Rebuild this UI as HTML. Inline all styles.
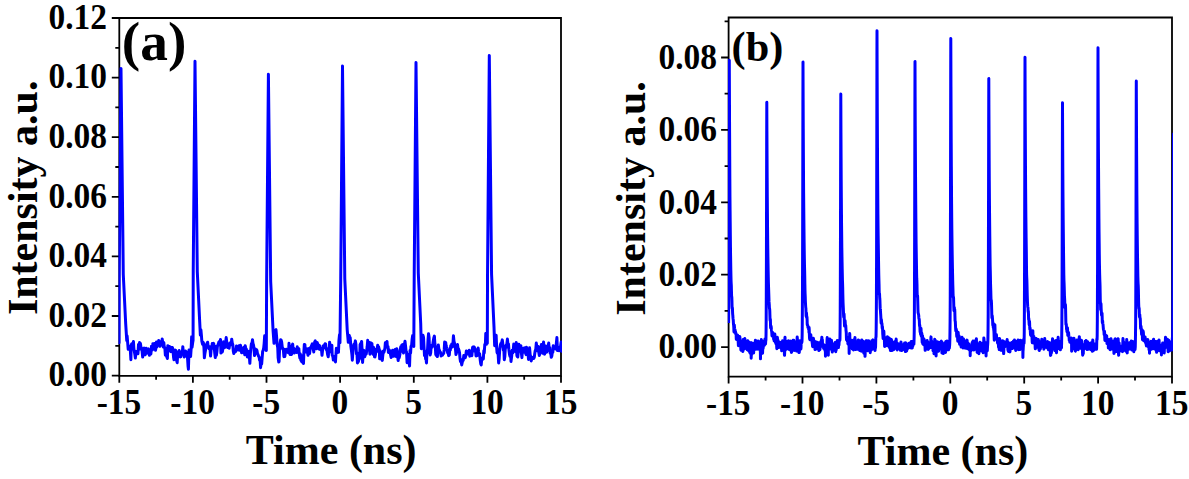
<!DOCTYPE html>
<html><head><meta charset="utf-8"><style>
html,body{margin:0;padding:0;background:#fff;width:1189px;height:479px;overflow:hidden}
svg{display:block}
text{font-family:"Liberation Serif",serif;font-weight:bold}
</style></head><body>
<svg width="1189" height="479" viewBox="0 0 1189 479">
<defs><clipPath id="ca"><rect x="118.5" y="18" width="443.5" height="357.8"/></clipPath><clipPath id="cb"><rect x="727.8" y="17.5" width="445.2" height="359"/></clipPath></defs>
<path d="M119.3,18.0 H561.0 V375.8 H119.3 Z" fill="none" stroke="#000" stroke-width="1.8"/>
<path d="M111.8,375.6 H119.3 M111.8,316.0 H119.3 M111.8,256.4 H119.3 M111.8,196.8 H119.3 M111.8,137.2 H119.3 M111.8,77.6 H119.3 M111.8,18.0 H119.3 M115.3,345.8 H119.3 M115.3,286.2 H119.3 M115.3,226.6 H119.3 M115.3,167.0 H119.3 M115.3,107.4 H119.3 M115.3,47.8 H119.3 M119.3,375.8 V382.8 M192.9,375.8 V382.8 M266.5,375.8 V382.8 M340.1,375.8 V382.8 M413.8,375.8 V382.8 M487.4,375.8 V382.8 M561.0,375.8 V382.8 M156.1,375.8 V379.8 M229.7,375.8 V379.8 M303.3,375.8 V379.8 M377.0,375.8 V379.8 M450.6,375.8 V379.8 M524.2,375.8 V379.8" stroke="#000" stroke-width="1.8" fill="none"/>
<path d="M728.6,17.5 H1172.0 V376.6 H728.6 Z" fill="none" stroke="#000" stroke-width="1.8"/>
<path d="M721.1,347.1 H728.6 M721.1,274.7 H728.6 M721.1,202.3 H728.6 M721.1,129.9 H728.6 M721.1,57.5 H728.6 M724.6,310.9 H728.6 M724.6,238.5 H728.6 M724.6,166.1 H728.6 M724.6,93.7 H728.6 M724.6,21.3 H728.6 M728.6,376.6 V383.6 M802.5,376.6 V383.6 M876.4,376.6 V383.6 M950.3,376.6 V383.6 M1024.2,376.6 V383.6 M1098.1,376.6 V383.6 M1172.0,376.6 V383.6 M765.6,376.6 V380.6 M839.5,376.6 V380.6 M913.4,376.6 V380.6 M987.2,376.6 V380.6 M1061.2,376.6 V380.6 M1135.0,376.6 V380.6" stroke="#000" stroke-width="1.8" fill="none"/>
<path clip-path="url(#ca)" d="M116.27,345.46 116.87,341.05 117.41,338.04 117.79,330.44 118.33,340.47 119.03,342.74 119.23,274.49 121.00,68.40 123.28,274.49 125.71,323.95 126.77,340.57 127.11,335.86 127.70,342.81 128.20,349.27 128.69,346.55 129.26,347.25 129.69,346.68 130.34,350.49 130.87,359.68 131.21,344.93 131.81,343.70 132.28,346.06 132.75,346.06 133.45,341.56 133.86,348.57 134.31,351.19 134.95,355.03 135.35,358.06 136.03,351.43 136.39,352.78 136.86,351.96 137.41,351.35 137.96,353.78 138.51,344.42 139.12,347.57 139.59,342.48 140.02,349.04 140.46,343.57 141.01,347.79 141.72,348.16 142.11,351.32 142.68,357.03 143.05,354.60 143.56,350.56 144.26,348.12 144.72,353.60 145.17,354.75 145.69,349.77 146.15,348.29 146.68,351.09 147.16,353.11 147.87,349.25 148.30,348.79 148.73,350.80 149.39,355.22 149.78,352.17 150.26,352.14 150.90,354.00 151.49,346.21 151.80,348.12 152.50,349.84 152.87,343.71 153.36,345.54 153.86,345.52 154.44,343.52 155.06,344.37 155.52,350.31 156.12,346.91 156.48,341.94 157.02,346.89 157.52,345.05 158.21,343.71 158.72,340.59 159.09,341.17 159.63,343.17 160.11,346.39 160.73,342.27 161.08,342.60 161.60,343.75 162.20,339.01 162.67,342.26 163.33,347.10 163.82,342.52 164.29,347.70 164.83,347.71 165.36,355.13 165.89,352.36 166.44,355.46 166.77,356.79 167.40,358.48 167.80,345.75 168.39,351.30 168.99,350.16 169.53,346.47 170.01,349.08 170.35,347.09 170.95,351.66 171.41,347.46 172.13,349.14 172.44,347.48 172.98,350.04 173.52,356.97 173.97,359.74 174.67,356.57 175.13,350.12 175.54,350.15 176.13,351.41 176.55,360.21 177.19,362.69 177.61,355.49 178.08,353.41 178.62,353.66 179.24,350.58 179.77,352.84 180.21,356.96 180.80,356.66 181.25,353.56 181.71,353.88 182.27,353.67 182.81,346.68 183.44,354.15 183.77,354.08 184.28,356.94 184.91,354.15 185.52,350.99 186.02,351.72 186.49,355.33 186.85,355.35 187.54,358.03 188.03,366.03 188.42,369.20 189.01,350.02 189.42,352.25 190.12,354.29 190.61,356.52 191.15,348.74 191.65,336.69 192.05,347.26 192.69,342.63 193.08,340.22 193.23,271.60 195.00,61.30 197.28,271.60 199.71,322.08 200.36,335.11 200.91,329.82 201.39,335.16 201.84,341.17 202.53,344.19 202.83,342.08 203.40,342.73 203.97,347.82 204.36,357.84 204.91,353.61 205.58,349.66 206.09,347.44 206.57,344.30 207.15,343.29 207.63,342.19 208.03,345.53 208.63,347.37 209.07,348.67 209.69,346.75 210.12,350.16 210.58,356.11 211.26,347.72 211.73,348.60 212.26,343.49 212.73,343.98 213.30,343.27 213.74,343.60 214.28,347.92 214.68,352.46 215.31,357.59 215.89,346.47 216.38,355.40 216.91,351.55 217.36,346.53 217.96,345.10 218.30,343.88 218.99,341.83 219.39,341.53 219.84,344.31 220.48,339.39 220.95,353.09 221.46,351.30 222.08,352.01 222.43,351.57 223.05,347.11 223.52,341.76 224.06,347.33 224.57,347.67 225.00,343.28 225.61,342.68 226.20,337.60 226.56,340.62 227.03,345.22 227.56,347.44 228.17,345.41 228.81,345.73 229.10,348.17 229.84,343.05 230.25,343.02 230.67,343.87 231.25,344.78 231.72,339.18 232.35,343.35 232.83,344.62 233.28,350.87 233.79,353.43 234.45,351.66 234.94,350.09 235.38,351.74 235.89,350.68 236.48,345.95 237.05,346.99 237.36,349.98 237.89,347.76 238.45,347.58 239.00,345.73 239.42,350.31 239.93,347.94 240.48,345.31 241.04,348.57 241.63,352.82 242.12,352.44 242.50,349.89 243.02,348.45 243.63,347.53 244.24,351.54 244.77,354.69 245.15,345.63 245.79,348.19 246.32,349.05 246.71,351.06 247.30,356.96 247.73,356.24 248.19,354.33 248.81,351.39 249.21,354.68 249.86,363.36 250.41,352.99 250.95,347.75 251.36,343.88 251.79,344.81 252.49,339.66 253.00,343.38 253.54,345.09 253.97,348.14 254.50,355.54 254.95,348.90 255.42,349.02 255.96,352.72 256.57,349.70 257.00,350.67 257.60,354.35 258.07,354.58 258.57,356.18 259.21,357.34 259.53,360.18 260.13,359.97 260.56,367.65 261.26,362.24 261.67,364.00 262.15,357.72 262.63,351.57 263.24,350.07 263.71,347.92 264.16,343.33 264.66,335.81 265.26,342.20 265.82,340.21 266.32,350.59 266.63,281.49 268.40,74.30 270.68,281.49 273.11,331.22 274.03,343.37 274.53,332.87 275.11,331.46 275.51,330.09 275.99,329.71 276.64,337.46 277.14,344.39 277.74,347.67 278.14,357.87 278.75,362.08 279.08,361.48 279.60,349.30 280.25,342.73 280.68,339.74 281.15,340.03 281.68,342.16 282.26,347.19 282.76,349.21 283.33,349.52 283.92,356.70 284.32,349.37 284.79,356.55 285.40,352.42 285.78,352.06 286.38,349.24 286.88,351.43 287.41,352.07 287.85,349.92 288.48,352.79 289.02,343.28 289.56,352.30 290.12,354.52 290.50,353.61 291.08,353.32 291.55,354.39 292.01,346.03 292.69,344.08 293.17,350.42 293.73,348.11 294.22,353.01 294.75,351.23 295.08,349.85 295.57,349.42 296.13,350.38 296.70,352.51 297.28,346.86 297.73,350.44 298.27,348.73 298.84,348.66 299.19,353.42 299.85,357.94 300.22,353.70 300.78,359.93 301.41,361.06 301.91,361.86 302.36,355.68 302.85,358.70 303.49,363.47 303.88,351.90 304.34,344.38 304.90,344.58 305.36,351.90 306.07,350.71 306.42,349.33 307.13,348.73 307.47,352.14 308.01,355.28 308.59,348.71 309.04,348.38 309.57,353.55 310.02,350.09 310.60,347.47 311.03,347.68 311.60,345.49 312.27,343.90 312.64,344.82 313.15,347.99 313.76,351.95 314.33,345.46 314.70,341.86 315.24,340.85 315.83,348.11 316.37,348.62 316.84,343.22 317.25,342.48 317.77,345.45 318.42,345.01 318.92,349.01 319.48,345.37 319.97,349.39 320.40,348.10 320.85,348.30 321.54,350.15 322.01,355.35 322.50,350.80 323.04,345.98 323.49,346.66 323.99,347.53 324.56,344.91 325.05,343.71 325.62,343.88 326.19,349.54 326.69,348.47 327.09,350.94 327.61,354.49 328.25,356.83 328.64,352.20 329.25,352.29 329.60,342.24 330.20,348.45 330.73,350.27 331.32,350.50 331.85,345.15 332.19,354.99 332.82,356.27 333.33,360.07 333.74,359.54 334.41,359.55 334.86,356.18 335.47,361.89 335.81,356.01 336.40,348.13 336.87,352.87 337.46,350.76 337.97,350.91 338.46,352.32 338.93,340.56 339.49,334.86 339.97,342.85 340.73,278.78 342.50,66.10 344.78,278.78 347.21,329.83 348.30,342.35 348.75,335.24 349.31,335.39 349.73,340.66 350.20,337.59 350.87,346.63 351.33,349.69 351.95,354.85 352.31,360.13 352.96,351.10 353.52,346.14 354.01,344.22 354.54,344.58 354.87,343.35 355.38,340.87 355.91,344.32 356.46,353.91 356.92,352.63 357.44,363.01 357.93,362.28 358.66,360.83 359.04,358.89 359.61,358.61 360.09,344.62 360.67,343.55 361.20,343.52 361.62,341.41 362.17,351.49 362.58,362.45 363.14,354.08 363.64,350.35 364.18,350.98 364.70,356.84 365.27,355.08 365.73,351.58 366.24,354.00 366.88,348.82 367.20,346.53 367.71,340.30 368.24,346.59 368.95,342.14 369.41,348.82 369.94,354.20 370.51,342.73 370.86,351.40 371.54,346.54 371.89,343.38 372.47,351.54 373.03,354.27 373.57,347.33 373.95,350.67 374.52,356.87 374.94,356.91 375.51,354.11 376.19,349.25 376.69,351.67 377.12,348.47 377.69,345.30 378.23,346.69 378.61,346.98 379.28,349.64 379.67,358.82 380.12,350.84 380.72,352.88 381.25,355.65 381.79,359.12 382.30,360.41 382.67,356.66 383.32,350.95 383.90,352.42 384.36,350.68 384.95,348.05 385.35,342.82 385.94,345.32 386.30,345.06 386.99,341.43 387.40,347.15 388.02,346.57 388.40,352.50 388.99,349.69 389.55,350.44 390.04,351.28 390.53,354.56 391.13,357.55 391.44,355.72 391.96,355.45 392.58,350.19 393.19,350.51 393.64,356.29 394.07,350.48 394.53,352.13 395.13,349.49 395.65,353.09 396.16,356.40 396.72,348.87 397.15,350.95 397.81,357.91 398.18,360.52 398.66,356.31 399.23,357.64 399.88,354.52 400.21,349.99 400.76,346.83 401.43,351.35 401.80,345.12 402.44,344.60 402.76,349.75 403.48,352.97 403.84,344.90 404.34,344.89 404.99,341.18 405.56,346.24 406.07,351.22 406.54,351.84 407.09,362.68 407.62,361.11 408.04,361.37 408.46,354.53 409.14,356.96 409.55,366.06 410.04,350.61 410.60,352.96 411.01,346.12 411.52,346.06 412.09,339.55 412.69,335.45 413.24,339.00 413.80,346.50 414.23,272.98 416.00,62.50 418.28,272.98 420.71,323.49 421.32,348.72 421.88,348.35 422.41,340.45 422.93,335.19 423.53,337.29 423.92,344.96 424.50,355.57 425.06,353.40 425.65,359.02 425.97,358.26 426.48,362.91 427.02,351.25 427.54,349.64 428.04,339.42 428.54,333.74 429.08,337.57 429.60,351.45 430.18,354.97 430.73,352.68 431.18,345.61 431.65,346.00 432.15,347.07 432.70,345.06 433.20,341.44 433.79,337.91 434.39,336.09 434.87,343.75 435.27,346.34 435.74,354.28 436.27,355.46 436.87,355.42 437.37,356.54 437.96,350.00 438.33,345.00 438.89,349.24 439.50,350.52 439.99,352.03 440.49,352.21 441.10,356.07 441.43,353.66 441.96,354.44 442.57,355.10 443.08,353.70 443.69,353.56 444.21,349.64 444.63,341.97 445.19,345.20 445.69,342.57 446.07,345.34 446.70,348.54 447.14,350.36 447.67,353.00 448.14,352.32 448.62,355.62 449.33,354.88 449.82,348.50 450.34,350.19 450.75,345.73 451.29,346.56 451.75,343.99 452.37,347.04 452.94,343.59 453.44,335.76 453.99,341.38 454.35,342.53 454.97,346.58 455.35,347.32 455.96,354.53 456.37,353.21 456.99,346.91 457.50,344.44 457.97,348.08 458.49,348.80 459.09,350.77 459.55,352.89 460.05,358.76 460.50,361.58 461.05,359.39 461.70,364.93 462.24,362.53 462.62,360.68 463.25,360.40 463.77,355.55 464.13,356.50 464.66,355.60 465.27,357.70 465.69,355.93 466.36,350.98 466.74,351.13 467.34,354.02 467.85,352.37 468.25,353.34 468.92,353.66 469.31,350.21 469.77,356.26 470.27,354.03 470.88,353.33 471.44,354.82 471.87,355.69 472.52,347.84 472.90,346.91 473.55,346.92 473.88,346.80 474.44,347.53 474.94,351.20 475.52,349.48 476.01,355.95 476.54,351.76 477.16,355.52 477.61,351.64 478.13,347.97 478.60,351.76 479.21,354.37 479.65,353.89 480.23,359.99 480.78,363.99 481.23,365.00 481.70,359.06 482.17,359.59 482.84,357.61 483.32,358.98 483.85,350.68 484.23,352.83 484.79,344.54 485.41,343.52 485.78,333.38 486.43,344.27 486.88,338.96 487.32,343.26 487.53,274.50 489.30,55.50 491.58,274.50 494.01,327.06 494.66,345.81 495.13,340.19 495.59,342.18 496.16,335.22 496.63,347.34 497.08,352.51 497.60,353.47 498.10,353.72 498.64,362.97 499.18,358.72 499.78,348.41 500.29,345.51 500.80,343.63 501.37,343.90 501.72,342.25 502.30,339.88 502.74,343.35 503.34,350.24 503.77,347.46 504.29,359.76 504.81,356.71 505.39,346.96 506.00,345.28 506.40,347.28 507.02,342.51 507.42,339.09 507.95,344.95 508.50,344.09 508.93,349.94 509.53,354.53 510.08,356.54 510.65,354.96 510.98,361.54 511.67,356.42 512.13,350.17 512.65,353.02 513.04,352.24 513.75,344.12 514.13,344.21 514.71,345.89 515.22,347.44 515.82,351.83 516.26,342.47 516.87,355.49 517.21,356.38 517.83,356.99 518.32,351.25 518.82,344.18 519.36,348.32 519.86,347.90 520.33,351.30 520.91,345.80 521.30,352.21 521.90,357.62 522.41,351.06 522.87,352.47 523.47,348.25 524.01,348.30 524.40,347.84 524.95,348.51 525.41,352.50 526.05,354.63 526.45,347.19 527.00,350.23 527.57,350.42 528.08,354.22 528.50,359.47 529.23,356.02 529.58,347.84 530.18,354.85 530.60,356.16 531.21,360.93 531.67,359.04 532.17,358.40 532.73,357.85 533.27,357.12 533.78,358.33 534.32,357.11 534.74,353.53 535.21,350.64 535.76,349.55 536.30,343.10 536.88,347.19 537.35,348.60 537.84,350.90 538.31,346.50 538.94,353.18 539.34,355.46 539.95,352.33 540.51,347.10 541.01,351.62 541.41,344.39 541.97,348.24 542.63,353.35 542.94,348.35 543.59,341.98 544.05,351.18 544.61,354.13 545.07,348.63 545.53,345.97 546.14,347.83 546.53,352.36 547.25,350.91 547.75,349.32 548.16,345.70 548.71,342.99 549.23,350.08 549.85,347.72 550.14,353.18 550.72,352.27 551.26,357.23 551.87,355.96 552.37,350.77 552.81,352.32 553.23,345.80 553.89,348.68 554.35,346.82 554.80,347.51 555.44,348.90 555.91,347.34 556.39,343.04 556.90,337.52 557.47,350.59 557.92,347.48 558.47,348.63 559.12,350.79 559.52,347.21 559.98,349.82 560.56,346.19 561.17,342.04 561.68,351.31 562.15,344.79 562.71,344.40 563.20,349.70 563.69,347.03" fill="none" stroke="#0000ff" stroke-width="3.0" stroke-linejoin="round"/>
<path clip-path="url(#cb)" d="M728.60,323.10 728.72,304.50 728.85,270.76 728.97,219.64 729.10,154.06 729.22,87.11 729.30,60.30 729.34,73.03 729.47,104.93 729.59,132.23 729.72,156.97 729.84,178.99 729.96,197.25 730.09,210.85 730.21,222.79 730.34,235.79 730.46,247.04 730.58,255.89 730.71,263.50 730.83,270.44 730.96,276.61 731.08,281.33 731.20,283.65 731.33,285.93 731.45,291.01 731.58,295.84 731.70,296.49 731.82,297.35 731.95,301.21 732.07,306.36 732.20,308.46 732.32,307.42 732.44,308.39 732.57,312.31 732.69,314.36 732.82,315.46 732.94,317.28 733.06,318.65 733.19,319.46 733.31,320.89 733.44,323.76 733.56,324.87 733.68,325.59 733.81,327.71 733.93,331.42 734.06,332.08 734.18,327.23 734.31,324.91 734.43,326.53 734.55,328.41 734.68,329.66 734.80,330.42 734.93,329.70 735.05,329.74 735.17,332.45 735.30,332.83 735.42,331.13 735.55,332.40 735.67,333.93 735.79,333.89 735.92,333.09 736.04,333.48 736.17,336.18 736.29,339.27 736.41,339.38 736.54,336.44 736.66,335.87 736.79,339.14 736.91,339.56 737.03,338.52 737.16,338.92 737.28,338.75 737.41,337.53 737.53,335.41 737.65,335.06 737.78,337.41 737.90,338.55 738.03,338.66 738.15,339.98 738.27,343.15 738.40,345.76 738.52,345.28 738.65,344.55 738.77,343.06 738.89,340.83 739.02,340.73 739.14,342.71 739.27,344.15 739.39,344.47 739.51,342.54 739.64,338.06 739.76,336.52 739.89,337.80 740.01,338.04 740.13,340.09 740.26,342.39 740.38,341.27 740.51,340.96 740.63,344.00 740.75,347.78 740.88,349.97 741.00,350.23 741.13,347.88 741.25,347.03 741.37,348.15 741.50,346.95 741.62,344.84 741.75,344.95 741.87,343.62 741.99,342.08 742.12,343.20 742.24,345.65 742.37,344.27 742.49,342.53 742.61,345.62 742.74,350.39 742.86,351.53 742.99,347.38 743.11,341.69 743.23,339.57 743.36,340.52 743.48,340.49 743.61,340.51 743.73,342.63 743.85,344.80 743.98,345.41 744.10,345.92 744.23,344.33 744.35,341.67 744.47,348.98 744.60,341.34 744.72,339.70 744.85,338.51 744.97,340.20 745.09,342.74 745.22,343.88 745.34,344.12 745.47,343.35 745.59,341.66 745.72,341.18 745.84,342.08 745.96,342.53 746.09,343.43 746.21,345.31 746.34,346.44 746.46,345.50 746.58,344.34 746.71,342.81 746.83,341.13 746.96,341.08 747.08,343.30 747.20,347.36 747.33,349.80 747.45,348.34 747.58,345.56 747.70,342.92 747.82,341.00 747.95,340.75 748.07,341.98 748.20,345.30 748.32,347.00 748.44,346.91 748.57,349.30 748.69,350.80 748.82,348.23 748.94,344.24 749.06,342.23 749.19,342.45 749.31,343.43 749.44,346.70 749.56,350.82 749.68,352.50 749.81,352.13 749.93,351.84 750.06,353.15 750.18,352.49 750.30,348.52 750.43,344.38 750.55,343.72 750.68,345.04 750.80,344.87 750.92,342.63 751.05,342.50 751.17,358.19 751.30,354.70 751.42,355.22 751.54,352.33 751.67,347.77 751.79,344.85 751.92,345.42 752.04,346.47 752.16,346.43 752.29,346.62 752.41,346.73 752.54,345.49 752.66,344.75 752.78,344.16 752.91,343.19 753.03,351.36 753.16,344.13 753.28,346.37 753.40,348.47 753.53,351.93 753.65,352.99 753.78,349.34 753.90,345.35 754.02,343.68 754.15,343.68 754.27,345.92 754.40,349.46 754.52,349.87 754.64,348.71 754.77,347.65 754.89,345.49 755.02,343.90 755.14,343.48 755.26,341.85 755.39,340.27 755.51,342.07 755.64,342.83 755.76,340.84 755.88,341.61 756.01,345.99 756.13,346.56 756.26,342.61 756.38,340.69 756.51,342.19 756.63,344.44 756.75,346.65 756.88,349.30 757.00,348.41 757.13,346.06 757.25,346.94 757.37,346.53 757.50,344.89 757.62,346.00 757.75,348.33 757.87,347.85 757.99,345.76 758.12,343.99 758.24,342.21 758.37,341.52 758.49,341.10 758.61,341.61 758.74,341.99 758.86,343.48 758.99,346.43 759.11,347.87 759.23,346.22 759.36,345.06 759.48,345.92 759.61,348.21 759.73,350.03 759.85,349.45 759.98,346.72 760.10,345.23 760.23,347.39 760.35,350.25 760.47,358.87 760.60,352.50 760.72,352.34 760.85,350.53 760.97,348.54 761.09,345.08 761.22,340.83 761.34,339.52 761.47,340.86 761.59,343.61 761.71,346.62 761.84,350.34 761.96,353.29 762.09,352.55 762.21,348.25 762.33,342.99 762.46,341.07 762.58,353.31 762.71,349.29 762.83,348.62 762.95,347.59 763.08,348.61 763.20,347.82 763.33,345.59 763.45,344.61 763.57,344.59 763.70,344.77 763.82,343.63 763.95,341.53 764.07,341.51 764.19,342.97 764.32,344.12 764.44,345.11 764.57,345.20 764.69,343.92 764.81,341.23 764.94,339.10 765.06,340.43 765.19,341.00 765.31,341.31 765.43,343.97 765.56,343.71 765.68,341.36 765.81,340.77 765.93,339.57 766.05,333.62 766.18,319.64 766.30,294.71 766.43,256.10 766.55,204.73 766.67,145.54 766.80,102.34 766.80,102.30 766.92,131.45 767.05,156.19 767.17,177.86 767.29,197.38 767.42,213.74 767.54,227.20 767.67,238.68 767.79,248.31 767.92,256.66 768.04,264.12 768.16,271.04 768.29,277.35 768.41,282.81 768.54,286.78 768.66,290.01 768.78,293.46 768.91,297.68 769.03,301.64 769.16,303.47 769.28,304.80 769.40,307.57 769.53,308.87 769.65,308.87 769.78,310.89 769.90,314.90 770.02,319.28 770.15,320.74 770.27,318.91 770.40,319.68 770.52,325.39 770.64,327.85 770.77,325.84 770.89,325.69 771.02,326.73 771.14,326.33 771.26,327.31 771.39,329.46 771.51,330.72 771.64,331.28 771.76,332.04 771.88,334.22 772.01,335.93 772.13,334.88 772.26,332.28 772.38,332.02 772.50,335.04 772.63,336.46 772.75,334.43 772.88,332.99 773.00,333.32 773.12,333.68 773.25,334.31 773.37,334.00 773.50,336.15 773.62,339.31 773.74,339.10 773.87,338.91 773.99,340.03 774.12,340.82 774.24,340.83 774.36,340.41 774.49,338.32 774.61,335.35 774.74,333.89 774.86,334.43 774.98,336.17 775.11,338.77 775.23,341.64 775.36,342.41 775.48,341.12 775.60,341.52 775.73,343.14 775.85,343.61 775.98,340.88 776.10,338.69 776.22,339.30 776.35,340.21 776.47,341.57 776.60,343.58 776.72,347.00 776.84,348.65 776.97,344.98 777.09,341.00 777.22,338.62 777.34,337.22 777.46,338.36 777.59,340.70 777.71,340.54 777.84,339.81 777.96,343.57 778.08,345.88 778.21,344.21 778.33,341.75 778.46,341.74 778.58,344.55 778.70,347.51 778.83,346.27 778.95,344.16 779.08,345.80 779.20,347.35 779.33,346.48 779.45,345.73 779.57,345.02 779.70,345.17 779.82,345.91 779.95,344.14 780.07,342.36 780.19,343.87 780.32,345.74 780.44,345.70 780.57,344.37 780.69,344.42 780.81,345.30 780.94,343.74 781.06,343.08 781.19,344.65 781.31,343.65 781.43,344.58 781.56,349.23 781.68,350.78 781.81,347.25 781.93,344.09 782.05,344.75 782.18,345.30 782.30,344.47 782.43,342.41 782.55,340.75 782.67,343.36 782.80,346.27 782.92,345.45 783.05,345.15 783.17,346.68 783.29,347.34 783.42,348.73 783.54,350.02 783.67,348.31 783.79,345.89 783.91,346.97 784.04,348.26 784.16,347.38 784.29,350.02 784.41,354.50 784.53,355.32 784.66,353.12 784.78,346.11 784.91,338.03 785.03,337.29 785.15,342.80 785.28,348.17 785.40,350.09 785.53,348.32 785.65,344.58 785.77,342.14 785.90,341.98 786.02,343.02 786.15,346.78 786.27,349.26 786.39,346.05 786.52,342.28 786.64,341.51 786.77,343.23 786.89,346.22 787.01,346.85 787.14,345.36 787.26,343.68 787.39,342.50 787.51,343.26 787.63,346.47 787.76,348.81 787.88,348.49 788.01,347.77 788.13,347.94 788.25,346.77 788.38,343.29 788.50,340.80 788.63,349.11 788.75,341.48 788.87,343.63 789.00,346.04 789.12,347.03 789.25,348.05 789.37,349.66 789.49,349.56 789.62,347.52 789.74,343.39 789.87,343.07 789.99,345.73 790.12,346.42 790.24,344.44 790.36,341.21 790.49,341.05 790.61,343.81 790.74,345.24 790.86,344.44 790.98,344.47 791.11,346.25 791.23,349.16 791.36,351.82 791.48,352.36 791.60,351.97 791.73,351.38 791.85,347.65 791.98,343.03 792.10,342.50 792.22,343.75 792.35,343.92 792.47,342.60 792.60,342.07 792.72,341.40 792.84,340.64 792.97,340.35 793.09,341.50 793.22,345.06 793.34,346.22 793.46,344.97 793.59,343.84 793.71,341.52 793.84,340.28 793.96,342.83 794.08,345.60 794.21,348.01 794.33,350.42 794.46,350.01 794.58,345.33 794.70,341.88 794.83,342.13 794.95,344.14 795.08,347.07 795.20,347.34 795.32,345.42 795.45,343.86 795.57,343.27 795.70,342.31 795.82,342.94 795.94,345.88 796.07,346.49 796.19,345.94 796.32,346.62 796.44,348.23 796.56,350.73 796.69,351.02 796.81,349.85 796.94,346.81 797.06,340.30 797.18,336.94 797.31,338.13 797.43,340.17 797.56,342.43 797.68,345.57 797.80,348.71 797.93,349.43 798.05,347.26 798.18,348.34 798.30,351.15 798.42,350.08 798.55,348.69 798.67,350.32 798.80,352.07 798.92,352.55 799.04,350.83 799.17,350.75 799.29,352.41 799.42,350.30 799.54,346.57 799.66,343.95 799.79,341.28 799.91,340.66 800.04,343.47 800.16,347.84 800.28,348.60 800.41,346.09 800.53,345.26 800.66,346.78 800.78,348.29 800.90,348.92 801.03,347.26 801.15,343.64 801.28,341.04 801.40,341.07 801.53,342.11 801.65,342.87 801.77,342.40 801.90,342.04 802.02,340.90 802.15,334.92 802.27,324.39 802.39,307.75 802.52,280.75 802.64,237.46 802.77,175.69 802.89,105.57 803.00,62.00 803.01,66.01 803.14,99.95 803.26,129.00 803.39,154.19 803.51,175.61 803.63,193.39 803.76,208.01 803.88,220.34 804.01,232.24 804.13,242.73 804.25,251.39 804.38,259.50 804.50,265.86 804.63,270.52 804.75,276.39 804.87,284.10 805.00,290.65 805.12,293.96 805.25,296.90 805.37,301.10 805.49,303.64 805.62,305.73 805.74,307.50 805.87,308.03 805.99,311.36 806.11,315.72 806.24,316.30 806.36,313.89 806.49,312.91 806.61,315.06 806.73,317.55 806.86,317.84 806.98,316.94 807.11,319.65 807.23,324.35 807.35,325.12 807.48,324.42 807.60,324.95 807.73,325.33 807.85,326.44 807.97,327.54 808.10,326.75 808.22,326.50 808.35,327.15 808.47,328.62 808.59,329.16 808.72,328.27 808.84,327.82 808.97,332.57 809.09,327.53 809.21,329.18 809.34,333.34 809.46,336.53 809.59,338.57 809.71,339.38 809.83,339.41 809.96,339.63 810.08,337.24 810.21,334.50 810.33,335.58 810.45,338.12 810.58,337.93 810.70,335.47 810.83,334.84 810.95,337.08 811.07,338.34 811.20,338.54 811.32,338.98 811.45,338.65 811.57,337.69 811.69,337.90 811.82,339.98 811.94,340.90 812.07,341.45 812.19,342.90 812.32,343.53 812.44,344.45 812.56,346.15 812.69,346.66 812.81,346.57 812.94,346.10 813.06,345.33 813.18,343.36 813.31,340.08 813.43,338.37 813.56,340.20 813.68,343.20 813.80,344.70 813.93,344.83 814.05,342.80 814.18,341.83 814.30,342.82 814.42,342.43 814.55,341.10 814.67,342.05 814.80,345.34 814.92,348.43 815.04,349.49 815.17,348.11 815.29,346.33 815.42,344.87 815.54,345.37 815.66,347.88 815.79,348.76 815.91,348.89 816.04,349.21 816.16,347.84 816.28,345.80 816.41,343.58 816.53,342.08 816.66,342.52 816.78,343.84 816.90,343.90 817.03,343.33 817.15,344.84 817.28,348.14 817.40,348.69 817.52,347.14 817.65,344.53 817.77,342.59 817.90,343.28 818.02,345.11 818.14,346.00 818.27,345.38 818.39,345.67 818.52,346.43 818.64,346.42 818.76,348.68 818.89,350.59 819.01,347.95 819.14,344.54 819.26,343.69 819.38,344.27 819.51,344.25 819.63,343.85 819.76,346.04 819.88,349.56 820.00,349.29 820.13,346.69 820.25,344.47 820.38,342.47 820.50,342.16 820.62,343.70 820.75,343.88 820.87,343.38 821.00,344.83 821.12,343.57 821.24,340.46 821.37,340.72 821.49,342.43 821.62,342.10 821.74,338.75 821.86,337.13 821.99,340.54 822.11,342.65 822.24,340.52 822.36,339.62 822.48,342.92 822.61,346.11 822.73,346.58 822.86,345.89 822.98,344.58 823.10,344.27 823.23,344.17 823.35,344.28 823.48,346.16 823.60,348.47 823.73,347.06 823.85,345.36 823.97,346.25 824.10,346.76 824.22,345.24 824.35,345.23 824.47,345.90 824.59,346.79 824.72,347.79 824.84,349.43 824.97,350.45 825.09,348.00 825.21,345.66 825.34,347.00 825.46,356.28 825.59,348.71 825.71,347.83 825.83,349.40 825.96,349.91 826.08,347.64 826.21,346.85 826.33,347.91 826.45,346.79 826.58,345.19 826.70,345.85 826.83,346.20 826.95,343.45 827.07,339.32 827.20,337.61 827.32,341.19 827.45,344.90 827.57,343.09 827.69,341.41 827.82,341.93 827.94,341.91 828.07,342.78 828.19,346.18 828.31,355.32 828.44,347.19 828.56,345.83 828.69,347.31 828.81,349.20 828.93,349.07 829.06,347.85 829.18,348.13 829.31,347.95 829.43,345.69 829.55,341.70 829.68,338.89 829.80,339.92 829.93,344.97 830.05,348.07 830.17,348.47 830.30,349.08 830.42,347.54 830.55,344.82 830.67,343.79 830.79,344.55 830.92,346.70 831.04,347.27 831.17,345.20 831.29,342.15 831.41,340.32 831.54,341.17 831.66,344.42 831.79,347.24 831.91,347.90 832.03,348.75 832.16,350.95 832.28,352.04 832.41,350.77 832.53,347.56 832.65,346.19 832.78,345.97 832.90,344.50 833.03,344.29 833.15,344.47 833.27,344.07 833.40,345.61 833.52,348.61 833.65,350.15 833.77,349.18 833.89,346.27 834.02,344.45 834.14,344.83 834.27,347.20 834.39,347.19 834.51,344.17 834.64,344.25 834.76,346.14 834.89,345.42 835.01,343.98 835.14,342.39 835.26,343.50 835.38,346.27 835.51,347.85 835.63,350.25 835.76,351.65 835.88,348.39 836.00,346.07 836.13,347.81 836.25,350.02 836.38,347.86 836.50,346.31 836.62,345.03 836.75,341.87 836.87,342.91 837.00,346.86 837.12,347.01 837.24,343.05 837.37,340.42 837.49,341.88 837.62,342.97 837.74,342.29 837.86,342.56 837.99,341.99 838.11,342.73 838.24,345.51 838.36,347.57 838.48,347.27 838.61,344.71 838.73,342.97 838.86,344.58 838.98,345.03 839.10,342.24 839.23,341.12 839.35,341.64 839.48,341.17 839.60,340.20 839.72,339.43 839.85,340.30 839.97,338.45 840.10,329.02 840.22,310.76 840.34,282.10 840.47,239.41 840.59,181.92 840.72,120.21 840.80,94.00 840.84,104.19 840.96,132.95 841.09,158.34 841.21,180.00 841.34,198.19 841.46,213.61 841.58,226.55 841.71,237.62 841.83,248.20 841.96,256.37 842.08,262.45 842.20,268.81 842.33,274.86 842.45,280.21 842.58,283.61 842.70,287.49 842.82,293.73 842.95,298.97 843.07,303.03 843.20,305.84 843.32,308.10 843.44,311.03 843.57,315.23 843.69,317.20 843.82,315.35 843.94,313.78 844.06,314.09 844.19,316.65 844.31,320.42 844.44,324.21 844.56,326.07 844.68,325.86 844.81,324.64 844.93,321.69 845.06,320.55 845.18,321.98 845.30,324.10 845.43,326.76 845.55,326.87 845.68,325.26 845.80,326.52 845.93,328.82 846.05,330.94 846.17,331.39 846.30,333.18 846.42,337.80 846.55,339.94 846.67,338.66 846.79,337.02 846.92,336.94 847.04,338.54 847.17,340.22 847.29,341.07 847.41,340.27 847.54,339.00 847.66,340.21 847.79,342.58 847.91,343.78 848.03,344.11 848.16,343.30 848.28,340.79 848.41,340.51 848.53,342.67 848.65,342.85 848.78,341.04 848.90,340.22 849.03,341.89 849.15,353.52 849.27,345.20 849.40,344.56 849.52,339.51 849.65,333.61 849.77,334.26 849.89,338.51 850.02,342.68 850.14,346.01 850.27,345.26 850.39,342.00 850.51,340.14 850.64,339.63 850.76,340.29 850.89,340.83 851.01,340.94 851.13,340.60 851.26,340.12 851.38,340.82 851.51,343.33 851.63,345.16 851.75,345.30 851.88,343.97 852.00,343.32 852.13,345.81 852.25,349.06 852.37,348.92 852.50,347.35 852.62,346.70 852.75,346.35 852.87,344.48 852.99,341.61 853.12,340.34 853.24,342.57 853.37,347.68 853.49,349.97 853.61,347.63 853.74,343.53 853.86,342.93 853.99,345.28 854.11,345.59 854.23,342.68 854.36,339.56 854.48,339.95 854.61,342.47 854.73,342.84 854.85,341.16 854.98,337.45 855.10,345.32 855.23,339.51 855.35,345.36 855.47,349.50 855.60,349.58 855.72,349.50 855.85,347.88 855.97,345.91 856.09,344.62 856.22,342.20 856.34,342.64 856.47,343.98 856.59,344.66 856.71,345.01 856.84,346.50 856.96,348.88 857.09,349.28 857.21,345.49 857.34,343.70 857.46,345.69 857.58,348.01 857.71,349.29 857.83,348.21 857.96,345.50 858.08,343.20 858.20,341.29 858.33,340.09 858.45,340.60 858.58,342.26 858.70,343.63 858.82,343.77 858.95,344.00 859.07,346.47 859.20,347.87 859.32,348.09 859.44,349.45 859.57,350.38 859.69,349.97 859.82,345.30 859.94,341.12 860.06,343.53 860.19,345.67 860.31,347.96 860.44,350.60 860.56,349.97 860.68,347.07 860.81,345.57 860.93,344.08 861.06,344.41 861.18,349.30 861.30,351.24 861.43,346.63 861.55,342.25 861.68,340.99 861.80,340.02 861.92,340.66 862.05,343.71 862.17,345.83 862.30,344.35 862.42,342.20 862.54,342.62 862.67,343.91 862.79,344.20 862.92,343.84 863.04,343.28 863.16,342.43 863.29,341.20 863.41,342.65 863.54,347.10 863.66,352.15 863.78,353.12 863.91,349.44 864.03,345.01 864.16,343.07 864.28,345.77 864.40,347.65 864.53,348.03 864.65,349.74 864.78,350.66 864.90,353.47 865.02,356.36 865.15,354.25 865.27,349.51 865.40,347.18 865.52,347.66 865.64,348.04 865.77,346.54 865.89,344.74 866.02,342.72 866.14,340.84 866.26,342.80 866.39,347.28 866.51,349.51 866.64,348.60 866.76,345.11 866.88,341.35 867.01,340.75 867.13,344.15 867.26,348.43 867.38,350.79 867.50,348.97 867.63,345.08 867.75,344.89 867.88,344.61 868.00,343.27 868.13,344.91 868.25,346.33 868.37,347.97 868.50,350.30 868.62,346.69 868.75,340.82 868.87,343.74 868.99,349.57 869.12,349.54 869.24,346.55 869.37,345.17 869.49,346.72 869.61,348.00 869.74,345.99 869.86,344.70 869.99,347.52 870.11,351.00 870.23,352.75 870.36,351.01 870.48,345.95 870.61,343.95 870.73,344.46 870.85,343.66 870.98,343.46 871.10,346.28 871.23,348.03 871.35,348.35 871.47,349.92 871.60,347.26 871.72,342.02 871.85,340.78 871.97,343.48 872.09,345.69 872.22,346.40 872.34,346.17 872.47,344.18 872.59,341.45 872.71,340.05 872.84,339.90 872.96,342.28 873.09,344.83 873.21,343.65 873.33,341.63 873.46,342.91 873.58,344.60 873.71,345.87 873.83,346.03 873.95,346.83 874.08,348.39 874.20,349.27 874.33,348.03 874.45,344.56 874.57,342.21 874.70,343.94 874.82,346.86 874.95,349.16 875.07,350.53 875.19,346.82 875.32,344.76 875.44,348.17 875.57,346.91 875.69,341.10 875.81,337.43 875.94,337.49 876.06,336.02 876.19,328.08 876.31,316.03 876.43,296.69 876.56,261.08 876.68,204.75 876.81,130.16 876.93,55.32 877.00,30.80 877.05,48.02 877.18,82.97 877.30,113.32 877.43,139.46 877.55,161.58 877.67,181.24 877.80,199.20 877.92,214.54 878.05,226.26 878.17,235.68 878.29,244.07 878.42,252.71 878.54,261.33 878.67,269.06 878.79,275.35 878.91,279.88 879.04,284.38 879.16,290.52 879.29,294.12 879.41,293.61 879.54,293.72 879.66,296.78 879.78,298.99 879.91,299.96 880.03,303.91 880.16,308.15 880.28,309.32 880.40,310.07 880.53,312.12 880.65,313.94 880.78,316.00 880.90,317.94 881.02,321.02 881.15,323.19 881.27,320.84 881.40,319.56 881.52,321.14 881.64,323.07 881.77,323.58 881.89,323.22 882.02,324.53 882.14,327.12 882.26,328.34 882.39,326.54 882.51,327.22 882.64,330.71 882.76,334.10 882.88,335.45 883.01,337.02 883.13,338.53 883.26,336.30 883.38,336.03 883.50,336.44 883.63,333.60 883.75,330.88 883.88,331.79 884.00,334.90 884.12,338.56 884.25,339.09 884.37,339.11 884.50,343.31 884.62,346.56 884.74,344.63 884.87,341.58 884.99,339.31 885.12,337.53 885.24,337.81 885.36,339.15 885.49,339.51 885.61,340.21 885.74,341.55 885.86,342.10 885.98,341.00 886.11,340.15 886.23,340.59 886.36,342.05 886.48,342.35 886.60,343.28 886.73,344.28 886.85,345.67 886.98,345.48 887.10,344.50 887.22,343.85 887.35,339.71 887.47,336.83 887.60,340.24 887.72,344.23 887.84,343.81 887.97,342.95 888.09,342.74 888.22,341.38 888.34,338.67 888.46,337.44 888.59,338.45 888.71,339.54 888.84,339.91 888.96,340.41 889.08,344.65 889.21,347.46 889.33,345.37 889.46,342.31 889.58,343.09 889.70,345.78 889.83,344.33 889.95,340.17 890.08,338.85 890.20,343.97 890.32,349.78 890.45,350.55 890.57,347.09 890.70,344.06 890.82,343.94 890.95,345.59 891.07,346.63 891.19,345.21 891.32,341.59 891.44,339.51 891.57,343.27 891.69,347.61 891.81,348.56 891.94,349.58 892.06,350.53 892.19,348.06 892.31,345.66 892.43,346.24 892.56,347.63 892.68,346.64 892.81,344.15 892.93,343.12 893.05,345.02 893.18,346.29 893.30,343.48 893.43,342.37 893.55,346.97 893.67,349.75 893.80,345.64 893.92,342.63 894.05,343.82 894.17,344.03 894.29,342.04 894.42,341.94 894.54,348.09 894.67,344.76 894.79,343.54 894.91,342.81 895.04,345.27 895.16,348.28 895.29,347.97 895.41,345.78 895.53,345.00 895.66,345.19 895.78,344.82 895.91,344.01 896.03,341.14 896.15,339.07 896.28,340.56 896.40,343.31 896.53,346.26 896.65,347.85 896.77,346.56 896.90,347.82 897.02,349.76 897.15,349.83 897.27,349.25 897.39,348.04 897.52,346.90 897.64,345.07 897.77,343.38 897.89,344.68 898.01,347.30 898.14,348.38 898.26,347.71 898.39,346.96 898.51,347.92 898.63,346.44 898.76,343.92 898.88,344.68 899.01,345.83 899.13,347.35 899.25,348.92 899.38,346.70 899.50,344.00 899.63,344.08 899.75,345.75 899.87,347.64 900.00,347.88 900.12,347.79 900.25,348.92 900.37,350.35 900.49,349.28 900.62,347.33 900.74,346.25 900.87,343.75 900.99,341.93 901.11,343.23 901.24,344.77 901.36,346.18 901.49,348.63 901.61,350.35 901.74,350.51 901.86,347.87 901.98,345.06 902.11,346.17 902.23,347.55 902.36,348.03 902.48,348.29 902.60,347.92 902.73,346.99 902.85,346.24 902.98,346.11 903.10,346.02 903.22,346.62 903.35,346.86 903.47,345.23 903.60,344.47 903.72,346.71 903.84,346.65 903.97,344.80 904.09,345.84 904.22,349.03 904.34,349.62 904.46,346.36 904.59,343.07 904.71,343.22 904.84,345.58 904.96,347.27 905.08,347.92 905.21,349.37 905.33,351.58 905.46,350.88 905.58,346.13 905.70,342.77 905.83,345.92 905.95,350.86 906.08,351.41 906.20,349.77 906.32,348.92 906.45,348.43 906.57,349.37 906.70,350.66 906.82,349.84 906.94,346.78 907.07,344.60 907.19,343.89 907.32,343.90 907.44,344.11 907.56,344.64 907.69,346.00 907.81,346.27 907.94,347.22 908.06,348.36 908.18,347.59 908.31,345.36 908.43,343.89 908.56,344.40 908.68,346.52 908.80,347.57 908.93,347.00 909.05,344.41 909.18,343.35 909.30,344.80 909.42,345.25 909.55,344.87 909.67,343.29 909.80,343.33 909.92,344.98 910.04,345.31 910.17,343.79 910.29,344.53 910.42,345.43 910.54,345.37 910.66,346.83 910.79,347.88 910.91,347.90 911.04,346.19 911.16,342.49 911.28,341.55 911.41,342.82 911.53,341.58 911.66,341.64 911.78,343.13 911.90,341.89 912.03,341.49 912.15,345.23 912.28,347.88 912.40,345.70 912.52,341.41 912.65,341.98 912.77,345.44 912.90,345.82 913.02,344.54 913.15,343.71 913.27,342.66 913.39,342.08 913.52,341.71 913.64,342.65 913.77,344.23 913.89,344.17 914.01,341.19 914.14,337.26 914.26,329.69 914.39,310.94 914.51,280.36 914.63,236.95 914.76,177.81 914.88,108.91 915.00,61.50 915.01,63.12 915.13,97.36 915.25,126.56 915.38,151.33 915.50,172.56 915.63,190.26 915.75,204.99 915.87,218.70 916.00,231.95 916.12,243.73 916.25,252.36 916.37,259.18 916.49,265.96 916.62,273.92 916.74,278.96 916.87,280.47 916.99,284.19 917.11,291.26 917.24,295.99 917.36,296.84 917.49,295.52 917.61,296.44 917.73,300.59 917.86,305.22 917.98,310.03 918.11,312.79 918.23,313.08 918.35,313.53 918.48,314.18 918.60,314.85 918.73,315.62 918.85,317.66 918.97,318.88 919.10,318.86 919.22,319.33 919.35,321.03 919.47,324.60 919.59,326.15 919.72,324.97 919.84,325.93 919.97,329.47 920.09,332.03 920.21,332.10 920.34,331.59 920.46,332.74 920.59,334.50 920.71,333.78 920.83,330.57 920.96,328.21 921.08,329.70 921.21,334.26 921.33,336.31 921.45,335.14 921.58,334.08 921.70,333.08 921.83,333.63 921.95,336.40 922.07,339.67 922.20,342.46 922.32,341.36 922.45,336.56 922.57,335.84 922.69,341.15 922.82,343.84 922.94,341.97 923.07,341.24 923.19,342.46 923.31,340.96 923.44,340.96 923.56,344.76 923.69,344.40 923.81,340.17 923.94,338.84 924.06,339.91 924.18,339.37 924.31,340.42 924.43,343.53 924.56,344.44 924.68,344.13 924.80,343.72 924.93,344.46 925.05,347.60 925.18,350.31 925.30,350.33 925.42,348.16 925.55,344.59 925.67,342.71 925.80,344.31 925.92,345.77 926.04,344.66 926.17,342.96 926.29,343.23 926.42,344.51 926.54,345.39 926.66,345.05 926.79,343.51 926.91,341.65 927.04,340.86 927.16,340.51 927.28,341.79 927.41,345.17 927.53,348.18 927.66,348.04 927.78,345.89 927.90,343.14 928.03,342.30 928.15,349.50 928.28,343.21 928.40,344.37 928.52,346.66 928.65,346.42 928.77,346.98 928.90,348.55 929.02,348.03 929.14,345.77 929.27,343.54 929.39,343.48 929.52,345.79 929.64,345.77 929.76,343.00 929.89,343.26 930.01,346.65 930.14,347.58 930.26,346.13 930.38,345.22 930.51,345.41 930.63,346.27 930.76,343.30 930.88,337.85 931.00,336.88 931.13,339.16 931.25,342.50 931.38,343.80 931.50,341.52 931.62,340.94 931.75,343.67 931.87,345.15 932.00,345.18 932.12,346.86 932.24,347.74 932.37,345.47 932.49,345.18 932.62,346.23 932.74,345.69 932.86,348.23 932.99,350.76 933.11,349.87 933.24,348.12 933.36,348.64 933.48,349.57 933.61,347.67 933.73,347.00 933.86,350.46 933.98,353.76 934.10,352.67 934.23,349.01 934.35,346.19 934.48,344.89 934.60,341.62 934.72,339.21 934.85,342.00 934.97,343.97 935.10,342.09 935.22,340.22 935.35,341.40 935.47,346.04 935.59,351.30 935.72,353.41 935.84,351.95 935.97,350.84 936.09,356.07 936.21,351.97 936.34,350.19 936.46,348.48 936.59,345.62 936.71,342.20 936.83,343.37 936.96,346.22 937.08,346.14 937.21,346.98 937.33,348.11 937.45,345.18 937.58,341.77 937.70,344.43 937.83,347.80 937.95,346.95 938.07,345.15 938.20,345.79 938.32,348.08 938.45,350.20 938.57,351.26 938.69,350.66 938.82,347.75 938.94,345.11 939.07,344.43 939.19,343.82 939.31,342.58 939.44,343.13 939.56,345.64 939.69,348.45 939.81,348.78 939.93,346.74 940.06,344.84 940.18,345.49 940.31,346.36 940.43,345.08 940.55,344.09 940.68,346.41 940.80,347.91 940.93,346.48 941.05,343.96 941.17,341.32 941.30,341.16 941.42,343.47 941.55,345.05 941.67,343.95 941.79,342.10 941.92,353.03 942.04,347.12 942.17,351.99 942.29,351.71 942.41,347.57 942.54,344.27 942.66,344.09 942.79,347.10 942.91,349.86 943.03,350.03 943.16,351.63 943.28,353.60 943.41,351.99 943.53,348.58 943.65,345.55 943.78,344.09 943.90,344.82 944.03,346.43 944.15,347.63 944.27,348.25 944.40,347.89 944.52,345.73 944.65,343.84 944.77,342.84 944.89,343.87 945.02,345.96 945.14,346.68 945.27,347.09 945.39,349.80 945.51,352.52 945.64,348.93 945.76,343.06 945.89,341.60 946.01,343.17 946.13,347.32 946.26,350.29 946.38,349.59 946.51,348.33 946.63,346.23 946.76,342.51 946.88,341.49 947.00,342.11 947.13,340.89 947.25,342.47 947.38,345.09 947.50,344.24 947.62,344.29 947.75,347.04 947.87,348.87 948.00,347.53 948.12,345.30 948.24,344.56 948.37,347.91 948.49,349.87 948.62,348.33 948.74,346.56 948.86,344.99 948.99,345.48 949.11,346.49 949.24,347.95 949.36,348.01 949.48,346.86 949.61,345.65 949.73,343.38 949.86,339.25 949.98,331.35 950.10,320.58 950.23,300.32 950.35,262.86 950.48,209.56 950.60,139.68 950.72,65.95 950.80,38.50 950.85,53.21 950.97,87.36 951.10,117.17 951.22,143.64 951.34,166.21 951.47,186.12 951.59,203.73 951.72,218.02 951.84,229.35 951.96,238.63 952.09,247.24 952.21,255.11 952.34,262.23 952.46,268.45 952.58,274.53 952.71,280.73 952.83,285.47 952.96,289.60 953.08,293.98 953.20,296.98 953.33,297.41 953.45,296.99 953.58,298.23 953.70,302.41 953.82,307.37 953.95,310.74 954.07,310.31 954.20,307.79 954.32,307.39 954.44,309.09 954.57,309.49 954.69,309.44 954.82,311.42 954.94,316.28 955.06,320.57 955.19,321.21 955.31,321.52 955.44,324.24 955.56,326.97 955.68,329.19 955.81,330.79 955.93,330.43 956.06,328.79 956.18,329.18 956.30,329.56 956.43,330.05 956.55,332.64 956.68,335.39 956.80,336.47 956.92,336.24 957.05,335.17 957.17,333.93 957.30,332.95 957.42,333.81 957.55,335.97 957.67,339.55 957.79,341.27 957.92,338.24 958.04,333.99 958.17,332.30 958.29,333.85 958.41,337.24 958.54,339.03 958.66,339.01 958.79,338.42 958.91,336.81 959.03,335.66 959.16,336.79 959.28,338.60 959.41,340.22 959.53,343.41 959.65,344.22 959.78,343.10 959.90,342.02 960.03,340.71 960.15,340.09 960.27,341.18 960.40,342.35 960.52,343.58 960.65,342.71 960.77,340.82 960.89,341.93 961.02,346.25 961.14,346.89 961.27,343.63 961.39,343.77 961.51,344.27 961.64,341.95 961.76,338.95 961.89,337.68 962.01,337.22 962.13,337.85 962.26,340.05 962.38,340.83 962.51,339.32 962.63,339.83 962.75,344.06 962.88,348.04 963.00,347.29 963.13,344.74 963.25,342.70 963.37,338.82 963.50,342.36 963.62,339.24 963.75,340.78 963.87,339.95 963.99,342.07 964.12,346.84 964.24,346.12 964.37,343.17 964.49,345.19 964.61,347.88 964.74,347.37 964.86,345.98 964.99,343.14 965.11,342.52 965.23,345.54 965.36,347.14 965.48,346.02 965.61,345.99 965.73,346.99 965.85,347.82 965.98,348.14 966.10,346.65 966.23,343.35 966.35,343.16 966.47,346.76 966.60,347.42 966.72,343.41 966.85,340.38 966.97,340.04 967.09,340.22 967.22,341.55 967.34,344.17 967.47,346.60 967.59,347.98 967.71,348.67 967.84,348.03 967.96,345.91 968.09,345.92 968.21,345.39 968.33,344.60 968.46,345.32 968.58,346.70 968.71,347.63 968.83,346.26 968.96,343.96 969.08,344.86 969.20,347.98 969.33,349.75 969.45,350.18 969.58,348.52 969.70,347.52 969.82,347.03 969.95,345.68 970.07,345.92 970.20,355.69 970.32,347.71 970.44,348.79 970.57,350.65 970.69,351.09 970.82,349.83 970.94,348.25 971.06,347.87 971.19,347.34 971.31,347.37 971.44,348.65 971.56,348.47 971.68,347.67 971.81,347.88 971.93,348.07 972.06,346.57 972.18,342.51 972.30,343.35 972.43,348.37 972.55,349.73 972.68,347.26 972.80,344.02 972.92,341.73 973.05,340.98 973.17,343.03 973.30,346.35 973.42,346.79 973.54,345.67 973.67,345.55 973.79,348.11 973.92,350.03 974.04,346.10 974.16,341.06 974.29,340.97 974.41,342.57 974.54,344.76 974.66,346.35 974.78,346.36 974.91,345.52 975.03,345.48 975.16,348.19 975.28,349.25 975.40,346.05 975.53,344.71 975.65,345.91 975.78,345.55 975.90,344.27 976.02,344.97 976.15,344.77 976.27,340.50 976.40,338.71 976.52,342.97 976.64,345.50 976.77,343.18 976.89,343.29 977.02,348.29 977.14,352.29 977.26,352.48 977.39,351.20 977.51,350.52 977.64,349.96 977.76,350.29 977.88,349.90 978.01,346.60 978.13,346.05 978.26,349.50 978.38,350.21 978.50,349.48 978.63,349.21 978.75,348.80 978.88,353.68 979.00,346.97 979.12,347.90 979.25,348.61 979.37,346.64 979.50,344.16 979.62,343.01 979.75,344.23 979.87,344.17 979.99,342.31 980.12,342.72 980.24,343.13 980.37,343.56 980.49,346.18 980.61,347.78 980.74,346.37 980.86,344.97 980.99,348.16 981.11,350.99 981.23,348.36 981.36,343.32 981.48,343.33 981.61,346.71 981.73,346.05 981.85,343.52 981.98,345.31 982.10,347.06 982.23,345.23 982.35,343.41 982.47,347.04 982.60,349.92 982.72,348.16 982.85,346.95 982.97,348.60 983.09,351.53 983.22,352.78 983.34,349.44 983.47,346.05 983.59,345.63 983.71,341.76 983.84,337.91 983.96,338.90 984.09,340.82 984.21,341.06 984.33,343.21 984.46,346.81 984.58,348.45 984.71,350.78 984.83,351.17 984.95,348.25 985.08,347.38 985.20,347.96 985.33,347.46 985.45,344.89 985.57,344.55 985.70,347.36 985.82,349.60 985.95,349.32 986.07,356.02 986.19,349.09 986.32,348.62 986.44,345.78 986.57,343.35 986.69,342.45 986.81,344.40 986.94,347.69 987.06,349.11 987.19,350.45 987.31,350.57 987.43,348.28 987.56,346.20 987.68,344.74 987.81,342.64 987.93,338.13 988.05,329.95 988.18,313.77 988.30,286.13 988.43,246.50 988.55,193.04 988.67,127.66 988.80,78.56 988.80,78.50 988.92,109.45 989.05,136.31 989.17,160.00 989.29,181.26 989.42,198.87 989.54,212.58 989.67,224.93 989.79,236.55 989.91,247.28 990.04,257.75 990.16,266.01 990.29,270.89 990.41,276.62 990.53,283.24 990.66,287.53 990.78,290.89 990.91,295.94 991.03,299.65 991.16,300.06 991.28,300.12 991.40,301.67 991.53,304.57 991.65,308.72 991.78,313.86 991.90,317.75 992.02,318.05 992.15,316.56 992.27,315.85 992.40,317.71 992.52,319.22 992.64,321.26 992.77,324.95 992.89,325.33 993.02,322.58 993.14,323.71 993.26,327.51 993.39,327.24 993.51,326.40 993.64,328.56 993.76,329.91 993.88,330.66 994.01,332.85 994.13,336.79 994.26,340.18 994.38,339.10 994.50,335.34 994.63,330.92 994.75,326.37 994.88,324.84 995.00,328.22 995.12,333.91 995.25,337.52 995.37,336.67 995.50,334.93 995.62,335.25 995.74,335.23 995.87,335.94 995.99,338.75 996.12,338.51 996.24,335.37 996.36,334.42 996.49,335.64 996.61,338.19 996.74,339.46 996.86,338.45 996.98,338.52 997.11,338.34 997.23,338.20 997.36,340.07 997.48,342.27 997.60,342.96 997.73,343.39 997.85,342.36 997.98,340.47 998.10,339.61 998.22,341.54 998.35,343.55 998.47,345.64 998.60,347.38 998.72,346.07 998.84,344.81 998.97,344.89 999.09,343.89 999.22,349.66 999.34,340.88 999.46,339.61 999.59,338.59 999.71,339.53 999.84,341.87 999.96,343.12 1000.08,344.24 1000.21,345.86 1000.33,347.13 1000.46,346.77 1000.58,344.14 1000.70,342.82 1000.83,344.83 1000.95,347.40 1001.08,349.40 1001.20,350.38 1001.32,349.36 1001.45,347.91 1001.57,346.10 1001.70,342.20 1001.82,341.30 1001.94,343.69 1002.07,344.68 1002.19,343.50 1002.32,341.97 1002.44,340.79 1002.57,342.29 1002.69,344.39 1002.81,344.65 1002.94,342.73 1003.06,341.52 1003.19,340.96 1003.31,342.25 1003.43,347.83 1003.56,353.02 1003.68,353.57 1003.81,350.73 1003.93,348.02 1004.05,345.89 1004.18,343.53 1004.30,342.95 1004.43,343.85 1004.55,344.24 1004.67,346.21 1004.80,346.70 1004.92,343.81 1005.05,342.05 1005.17,343.40 1005.29,344.45 1005.42,343.09 1005.54,343.94 1005.67,346.13 1005.79,346.02 1005.91,345.35 1006.04,345.56 1006.16,344.59 1006.29,343.01 1006.41,343.94 1006.53,344.83 1006.66,345.28 1006.78,346.45 1006.91,345.61 1007.03,341.02 1007.15,339.53 1007.28,341.35 1007.40,342.11 1007.53,342.67 1007.65,343.82 1007.77,346.91 1007.90,349.96 1008.02,350.11 1008.15,349.74 1008.27,351.00 1008.39,351.46 1008.52,348.25 1008.64,344.95 1008.77,344.70 1008.89,344.53 1009.01,343.02 1009.14,343.65 1009.26,345.16 1009.39,346.76 1009.51,347.83 1009.63,348.23 1009.76,350.00 1009.88,352.02 1010.01,351.37 1010.13,347.47 1010.25,344.90 1010.38,345.57 1010.50,346.54 1010.63,345.77 1010.75,344.99 1010.87,345.80 1011.00,345.85 1011.12,345.18 1011.25,344.90 1011.37,344.19 1011.49,343.65 1011.62,342.95 1011.74,342.49 1011.87,344.62 1011.99,345.76 1012.11,345.70 1012.24,347.04 1012.36,348.51 1012.49,348.55 1012.61,348.23 1012.73,346.47 1012.86,344.04 1012.98,343.51 1013.11,344.61 1013.23,343.68 1013.36,341.17 1013.48,340.96 1013.60,342.12 1013.73,344.22 1013.85,343.86 1013.98,343.58 1014.10,346.80 1014.22,347.31 1014.35,342.98 1014.47,339.98 1014.60,340.98 1014.72,343.67 1014.84,345.25 1014.97,344.43 1015.09,344.40 1015.22,347.20 1015.34,348.50 1015.46,347.54 1015.59,349.29 1015.71,350.39 1015.84,347.86 1015.96,346.07 1016.08,346.71 1016.21,344.44 1016.33,341.40 1016.46,342.89 1016.58,346.66 1016.70,349.44 1016.83,348.94 1016.95,346.79 1017.08,346.92 1017.20,345.77 1017.32,344.61 1017.45,345.73 1017.57,345.28 1017.70,343.35 1017.82,342.15 1017.94,340.62 1018.07,339.91 1018.19,342.35 1018.32,346.12 1018.44,346.53 1018.56,346.35 1018.69,348.37 1018.81,349.63 1018.94,346.50 1019.06,342.56 1019.18,342.97 1019.31,345.83 1019.43,346.59 1019.56,345.50 1019.68,345.33 1019.80,347.55 1019.93,349.58 1020.05,348.39 1020.18,343.45 1020.30,340.16 1020.42,341.06 1020.55,342.51 1020.67,344.29 1020.80,345.70 1020.92,343.28 1021.04,340.49 1021.17,341.70 1021.29,345.50 1021.42,347.93 1021.54,346.88 1021.66,345.01 1021.79,345.49 1021.91,345.74 1022.04,345.86 1022.16,347.16 1022.28,347.74 1022.41,347.20 1022.53,347.32 1022.66,345.87 1022.78,343.65 1022.90,357.50 1023.03,350.58 1023.15,350.14 1023.28,347.12 1023.40,345.65 1023.52,343.06 1023.65,340.32 1023.77,339.05 1023.90,340.39 1024.02,343.34 1024.14,341.01 1024.27,330.65 1024.39,311.08 1024.52,279.63 1024.64,234.39 1024.77,172.72 1024.89,101.58 1025.00,57.30 1025.01,61.27 1025.14,95.36 1025.26,123.59 1025.39,148.25 1025.51,170.50 1025.63,189.11 1025.76,204.41 1025.88,217.62 1026.01,228.79 1026.13,238.17 1026.25,246.49 1026.38,256.69 1026.50,267.44 1026.63,274.68 1026.75,277.80 1026.87,280.09 1027.00,284.67 1027.12,290.12 1027.25,295.22 1027.37,298.77 1027.49,302.23 1027.62,304.83 1027.74,306.71 1027.87,307.39 1027.99,307.48 1028.11,310.74 1028.24,312.02 1028.36,311.06 1028.49,314.61 1028.61,319.51 1028.73,319.07 1028.86,318.69 1028.98,321.53 1029.11,323.76 1029.23,324.95 1029.35,323.75 1029.48,321.13 1029.60,322.78 1029.73,327.62 1029.85,329.35 1029.97,327.76 1030.10,327.77 1030.22,329.45 1030.35,331.56 1030.47,334.17 1030.59,334.89 1030.72,332.96 1030.84,331.02 1030.97,332.83 1031.09,335.68 1031.21,335.04 1031.34,332.71 1031.46,333.36 1031.59,335.61 1031.71,335.83 1031.83,335.24 1031.96,336.50 1032.08,338.84 1032.21,341.81 1032.33,342.76 1032.45,339.55 1032.58,336.09 1032.70,332.30 1032.83,330.73 1032.95,334.34 1033.07,337.85 1033.20,340.46 1033.32,342.58 1033.45,342.99 1033.57,341.44 1033.69,338.32 1033.82,336.16 1033.94,337.82 1034.07,339.86 1034.19,340.31 1034.31,340.90 1034.44,340.44 1034.56,340.73 1034.69,341.28 1034.81,339.65 1034.93,338.60 1035.06,341.98 1035.18,347.54 1035.31,348.83 1035.43,346.45 1035.56,345.68 1035.68,345.20 1035.80,342.14 1035.93,339.47 1036.05,338.56 1036.18,338.52 1036.30,339.56 1036.42,342.63 1036.55,343.66 1036.67,342.66 1036.80,344.25 1036.92,347.26 1037.04,346.62 1037.17,344.04 1037.29,344.13 1037.42,345.68 1037.54,345.85 1037.66,345.14 1037.79,344.09 1037.91,342.75 1038.04,342.53 1038.16,341.73 1038.28,339.52 1038.41,340.32 1038.53,341.03 1038.66,340.58 1038.78,343.92 1038.90,348.58 1039.03,350.14 1039.15,349.51 1039.28,349.85 1039.40,350.49 1039.52,349.01 1039.65,345.94 1039.77,342.89 1039.90,343.21 1040.02,344.50 1040.14,344.44 1040.27,346.90 1040.39,349.03 1040.52,345.82 1040.64,342.47 1040.76,343.77 1040.89,345.95 1041.01,346.29 1041.14,345.59 1041.26,344.24 1041.38,343.98 1041.51,343.63 1041.63,341.13 1041.76,339.36 1041.88,339.76 1042.00,340.11 1042.13,341.51 1042.25,343.44 1042.38,342.77 1042.50,340.91 1042.62,341.29 1042.75,343.87 1042.87,346.60 1043.00,347.00 1043.12,345.64 1043.24,342.16 1043.37,341.20 1043.49,343.08 1043.62,345.73 1043.74,347.70 1043.86,349.14 1043.99,348.68 1044.11,346.90 1044.24,346.41 1044.36,346.09 1044.48,343.86 1044.61,340.48 1044.73,338.58 1044.86,339.60 1044.98,343.48 1045.10,345.68 1045.23,344.82 1045.35,345.03 1045.48,346.41 1045.60,345.61 1045.72,344.58 1045.85,343.97 1045.97,344.47 1046.10,346.32 1046.22,347.25 1046.34,345.90 1046.47,345.59 1046.59,347.47 1046.72,347.09 1046.84,346.00 1046.97,345.43 1047.09,344.44 1047.21,343.63 1047.34,342.79 1047.46,341.88 1047.59,341.61 1047.71,342.41 1047.83,344.52 1047.96,344.42 1048.08,346.34 1048.21,349.47 1048.33,349.73 1048.45,347.85 1048.58,345.67 1048.70,343.72 1048.83,342.74 1048.95,344.39 1049.07,346.13 1049.20,345.76 1049.32,344.16 1049.45,342.67 1049.57,342.54 1049.69,345.17 1049.82,347.41 1049.94,348.36 1050.07,348.93 1050.19,349.64 1050.31,352.03 1050.44,354.84 1050.56,355.38 1050.69,355.34 1050.81,354.98 1050.93,351.03 1051.06,346.85 1051.18,347.75 1051.31,351.70 1051.43,352.93 1051.55,351.14 1051.68,348.65 1051.80,346.18 1051.93,345.33 1052.05,345.61 1052.17,345.23 1052.30,343.48 1052.42,340.83 1052.55,338.63 1052.67,340.56 1052.79,344.30 1052.92,347.05 1053.04,348.83 1053.17,348.65 1053.29,345.85 1053.41,342.47 1053.54,340.80 1053.66,341.38 1053.79,342.31 1053.91,343.66 1054.03,344.48 1054.16,343.83 1054.28,343.99 1054.41,345.63 1054.53,347.14 1054.65,349.10 1054.78,350.53 1054.90,349.07 1055.03,345.92 1055.15,342.36 1055.27,342.68 1055.40,344.42 1055.52,346.23 1055.65,346.90 1055.77,344.71 1055.89,343.26 1056.02,341.18 1056.14,340.49 1056.27,345.35 1056.39,351.95 1056.51,352.65 1056.64,350.56 1056.76,348.83 1056.89,344.79 1057.01,340.58 1057.13,341.20 1057.26,345.33 1057.38,346.72 1057.51,344.24 1057.63,343.48 1057.75,345.36 1057.88,344.66 1058.00,340.11 1058.13,337.33 1058.25,338.39 1058.38,341.51 1058.50,344.54 1058.62,346.00 1058.75,345.70 1058.87,344.90 1059.00,347.16 1059.12,348.62 1059.24,347.16 1059.37,344.10 1059.49,341.35 1059.62,342.40 1059.74,344.96 1059.86,344.55 1059.99,342.83 1060.11,343.85 1060.24,348.04 1060.36,349.86 1060.48,348.47 1060.61,345.29 1060.73,342.89 1060.86,341.64 1060.98,341.46 1061.10,344.38 1061.23,346.65 1061.35,348.04 1061.48,347.72 1061.60,343.25 1061.72,335.86 1061.85,324.57 1061.97,303.78 1062.10,269.46 1062.22,220.24 1062.34,160.58 1062.47,108.88 1062.50,102.80 1062.59,124.84 1062.72,151.63 1062.84,173.97 1062.96,192.07 1063.09,208.15 1063.21,221.73 1063.34,233.79 1063.46,245.34 1063.58,256.34 1063.71,266.69 1063.83,275.24 1063.96,280.45 1064.08,283.06 1064.20,286.43 1064.33,291.34 1064.45,295.97 1064.58,298.02 1064.70,300.14 1064.82,304.56 1064.95,307.66 1065.07,307.13 1065.20,305.00 1065.32,304.55 1065.44,304.94 1065.57,307.72 1065.69,314.03 1065.82,320.38 1065.94,324.42 1066.06,324.40 1066.19,323.74 1066.31,324.27 1066.44,326.78 1066.56,329.41 1066.68,329.16 1066.81,329.97 1066.93,331.69 1067.06,330.82 1067.18,329.23 1067.30,328.62 1067.43,327.62 1067.55,328.84 1067.68,332.44 1067.80,335.39 1067.92,334.88 1068.05,332.62 1068.17,332.60 1068.30,333.26 1068.42,332.88 1068.54,332.38 1068.67,333.53 1068.79,335.60 1068.92,336.51 1069.04,337.02 1069.17,338.64 1069.29,340.59 1069.41,339.26 1069.54,338.28 1069.66,340.96 1069.79,342.17 1069.91,341.95 1070.03,342.30 1070.16,340.86 1070.28,338.74 1070.41,338.02 1070.53,338.90 1070.65,340.32 1070.78,341.24 1070.90,340.76 1071.03,339.80 1071.15,338.90 1071.27,338.14 1071.40,338.05 1071.52,338.91 1071.65,351.25 1071.77,342.14 1071.89,342.24 1072.02,340.26 1072.14,343.99 1072.27,341.30 1072.39,342.14 1072.51,343.28 1072.64,345.20 1072.76,346.21 1072.89,344.57 1073.01,341.92 1073.13,340.88 1073.26,342.61 1073.38,347.02 1073.51,348.81 1073.63,345.54 1073.75,342.41 1073.88,339.66 1074.00,338.21 1074.13,342.23 1074.25,348.07 1074.37,348.31 1074.50,344.71 1074.62,342.77 1074.75,344.55 1074.87,345.22 1074.99,345.78 1075.12,349.02 1075.24,350.88 1075.37,351.10 1075.49,349.25 1075.61,346.12 1075.74,345.12 1075.86,345.68 1075.99,346.29 1076.11,346.49 1076.23,345.73 1076.36,345.56 1076.48,346.52 1076.61,346.41 1076.73,344.82 1076.85,341.88 1076.98,340.09 1077.10,340.51 1077.23,342.41 1077.35,345.22 1077.47,346.29 1077.60,345.74 1077.72,345.14 1077.85,345.02 1077.97,347.16 1078.09,349.76 1078.22,348.52 1078.34,343.27 1078.47,340.13 1078.59,343.87 1078.71,348.09 1078.84,348.38 1078.96,348.29 1079.09,345.09 1079.21,338.02 1079.33,336.64 1079.46,341.54 1079.58,345.00 1079.71,344.76 1079.83,342.52 1079.95,341.29 1080.08,343.17 1080.20,346.44 1080.33,346.26 1080.45,344.66 1080.58,346.29 1080.70,348.36 1080.82,346.84 1080.95,346.27 1081.07,347.05 1081.20,344.41 1081.32,341.96 1081.44,340.36 1081.57,340.68 1081.69,343.04 1081.82,345.36 1081.94,346.90 1082.06,347.21 1082.19,346.32 1082.31,347.26 1082.44,350.38 1082.56,353.10 1082.68,355.16 1082.81,354.07 1082.93,349.98 1083.06,346.35 1083.18,345.46 1083.30,353.75 1083.43,348.14 1083.55,347.79 1083.68,345.06 1083.80,345.19 1083.92,347.78 1084.05,347.91 1084.17,347.65 1084.30,349.11 1084.42,348.61 1084.54,345.92 1084.67,343.99 1084.79,343.53 1084.92,344.00 1085.04,343.10 1085.16,341.24 1085.29,341.47 1085.41,345.03 1085.54,347.53 1085.66,347.17 1085.78,344.14 1085.91,341.07 1086.03,340.51 1086.16,342.10 1086.28,342.43 1086.40,341.36 1086.53,340.86 1086.65,342.81 1086.78,344.08 1086.90,343.99 1087.02,345.97 1087.15,349.23 1087.27,349.48 1087.40,345.16 1087.52,341.81 1087.64,341.79 1087.77,342.64 1087.89,343.37 1088.02,342.69 1088.14,343.32 1088.26,346.86 1088.39,349.22 1088.51,347.82 1088.64,345.66 1088.76,346.02 1088.88,346.61 1089.01,343.70 1089.13,343.20 1089.26,346.44 1089.38,348.82 1089.50,347.78 1089.63,345.04 1089.75,344.11 1089.88,346.33 1090.00,349.24 1090.12,348.87 1090.25,347.26 1090.37,347.10 1090.50,346.78 1090.62,344.79 1090.74,344.13 1090.87,345.37 1090.99,345.79 1091.12,348.08 1091.24,349.96 1091.37,348.24 1091.49,344.47 1091.61,342.40 1091.74,343.55 1091.86,346.67 1091.99,345.94 1092.11,342.50 1092.23,345.48 1092.36,351.36 1092.48,350.69 1092.61,345.00 1092.73,340.05 1092.85,340.33 1092.98,343.98 1093.10,345.20 1093.23,345.91 1093.35,347.33 1093.47,349.02 1093.60,350.50 1093.72,349.95 1093.85,347.83 1093.97,346.84 1094.09,346.35 1094.22,344.31 1094.34,344.00 1094.47,345.52 1094.59,348.12 1094.71,347.78 1094.84,344.71 1094.96,345.71 1095.09,348.84 1095.21,349.15 1095.33,348.40 1095.46,345.63 1095.58,343.72 1095.71,344.90 1095.83,346.40 1095.95,346.82 1096.08,347.19 1096.20,347.36 1096.33,347.22 1096.45,348.98 1096.57,349.27 1096.70,344.28 1096.82,339.12 1096.95,338.64 1097.07,339.63 1097.19,335.55 1097.32,321.49 1097.44,296.49 1097.57,267.09 1097.69,207.26 1097.81,136.60 1097.94,68.03 1098.00,47.80 1098.06,66.43 1098.19,99.98 1098.31,128.61 1098.43,151.83 1098.56,171.46 1098.68,188.81 1098.81,204.49 1098.93,219.33 1099.05,232.16 1099.18,243.34 1099.30,254.63 1099.43,263.77 1099.55,269.54 1099.67,274.72 1099.80,279.35 1099.92,282.35 1100.05,286.30 1100.17,293.25 1100.29,300.24 1100.42,303.69 1100.54,304.16 1100.67,309.81 1100.79,303.87 1100.91,303.39 1101.04,304.71 1101.16,308.51 1101.29,310.81 1101.41,312.84 1101.53,314.84 1101.66,315.36 1101.78,314.31 1101.91,313.37 1102.03,313.18 1102.15,316.21 1102.28,321.70 1102.40,322.94 1102.53,321.03 1102.65,320.93 1102.78,323.17 1102.90,324.40 1103.02,324.32 1103.15,326.18 1103.27,327.69 1103.40,329.21 1103.52,329.79 1103.64,329.83 1103.77,330.70 1103.89,330.86 1104.02,332.48 1104.14,334.63 1104.26,334.11 1104.39,332.27 1104.51,331.21 1104.64,333.20 1104.76,337.72 1104.88,340.14 1105.01,340.35 1105.13,338.18 1105.26,335.07 1105.38,336.30 1105.50,338.85 1105.63,340.00 1105.75,339.32 1105.88,337.50 1106.00,338.21 1106.12,340.16 1106.25,339.96 1106.37,338.29 1106.50,336.81 1106.62,335.66 1106.74,336.77 1106.87,340.81 1106.99,343.58 1107.12,343.20 1107.24,342.28 1107.36,342.34 1107.49,343.00 1107.61,343.89 1107.74,343.02 1107.86,342.26 1107.98,341.87 1108.11,340.00 1108.23,342.07 1108.36,347.97 1108.48,348.04 1108.60,344.23 1108.73,342.81 1108.85,343.44 1108.98,341.62 1109.10,339.55 1109.22,341.34 1109.35,344.33 1109.47,344.78 1109.60,343.04 1109.72,341.79 1109.84,342.65 1109.97,346.21 1110.09,349.82 1110.22,349.10 1110.34,346.04 1110.46,343.73 1110.59,343.27 1110.71,343.24 1110.84,340.84 1110.96,338.82 1111.08,339.73 1111.21,342.16 1111.33,345.27 1111.46,346.23 1111.58,344.00 1111.70,341.92 1111.83,342.28 1111.95,345.56 1112.08,348.61 1112.20,348.89 1112.32,348.41 1112.45,347.79 1112.57,345.27 1112.70,344.85 1112.82,345.28 1112.94,344.09 1113.07,343.58 1113.19,345.00 1113.32,343.98 1113.44,341.76 1113.56,340.93 1113.69,343.56 1113.81,349.17 1113.94,353.47 1114.06,353.35 1114.19,349.09 1114.31,345.49 1114.43,345.14 1114.56,345.89 1114.68,346.55 1114.81,346.11 1114.93,342.11 1115.05,338.90 1115.18,338.85 1115.30,339.78 1115.43,342.52 1115.55,347.78 1115.67,349.59 1115.80,347.65 1115.92,346.38 1116.05,345.87 1116.17,344.96 1116.29,343.61 1116.42,342.92 1116.54,346.92 1116.67,351.61 1116.79,351.56 1116.91,350.65 1117.04,349.48 1117.16,347.93 1117.29,350.05 1117.41,351.40 1117.53,347.14 1117.66,342.13 1117.78,340.40 1117.91,339.24 1118.03,338.68 1118.15,338.87 1118.28,341.47 1118.40,347.56 1118.53,354.17 1118.65,355.28 1118.77,352.28 1118.90,347.61 1119.02,343.50 1119.15,342.87 1119.27,346.41 1119.39,351.05 1119.52,351.22 1119.64,347.94 1119.77,345.77 1119.89,346.97 1120.01,349.82 1120.14,349.88 1120.26,347.83 1120.39,347.95 1120.51,347.69 1120.63,346.40 1120.76,346.72 1120.88,349.20 1121.01,350.60 1121.13,349.94 1121.25,349.31 1121.38,349.60 1121.50,350.84 1121.63,350.53 1121.75,347.81 1121.87,345.91 1122.00,348.72 1122.12,350.11 1122.25,349.55 1122.37,350.43 1122.49,351.62 1122.62,350.31 1122.74,345.88 1122.87,340.85 1122.99,338.55 1123.11,340.04 1123.24,343.35 1123.36,343.39 1123.49,341.54 1123.61,341.96 1123.73,343.34 1123.86,343.62 1123.98,343.87 1124.11,345.22 1124.23,346.08 1124.35,345.77 1124.48,343.95 1124.60,343.73 1124.73,346.38 1124.85,348.13 1124.98,345.54 1125.10,343.04 1125.22,344.75 1125.35,347.97 1125.47,350.97 1125.60,350.36 1125.72,346.34 1125.84,343.01 1125.97,342.89 1126.09,343.94 1126.22,346.32 1126.34,351.60 1126.46,350.76 1126.59,343.89 1126.71,339.60 1126.84,341.31 1126.96,347.49 1127.08,352.26 1127.21,352.88 1127.33,350.27 1127.46,347.44 1127.58,346.94 1127.70,346.47 1127.83,345.34 1127.95,344.96 1128.08,343.73 1128.20,343.22 1128.32,345.51 1128.45,347.14 1128.57,347.15 1128.70,347.25 1128.82,349.09 1128.94,349.28 1129.07,348.39 1129.19,347.30 1129.32,343.49 1129.44,342.80 1129.56,345.25 1129.69,345.94 1129.81,344.99 1129.94,345.75 1130.06,347.63 1130.18,348.27 1130.31,348.81 1130.43,348.37 1130.56,346.96 1130.68,346.41 1130.80,346.79 1130.93,347.17 1131.05,347.00 1131.18,344.57 1131.30,341.04 1131.42,342.30 1131.55,348.24 1131.67,350.02 1131.80,344.67 1131.92,341.15 1132.04,342.88 1132.17,344.43 1132.29,344.82 1132.42,345.51 1132.54,346.51 1132.66,346.78 1132.79,346.81 1132.91,346.87 1133.04,347.37 1133.16,347.16 1133.28,344.78 1133.41,344.25 1133.53,346.37 1133.66,349.92 1133.78,351.75 1133.90,350.47 1134.03,350.68 1134.15,350.05 1134.28,344.49 1134.40,341.46 1134.52,342.73 1134.65,342.20 1134.77,341.49 1134.90,345.55 1135.02,349.50 1135.14,348.37 1135.27,346.90 1135.39,341.56 1135.52,332.88 1135.64,323.24 1135.76,303.23 1135.89,266.50 1136.01,214.26 1136.14,149.14 1136.26,89.90 1136.30,81.00 1136.39,103.31 1136.51,131.80 1136.63,155.80 1136.76,176.43 1136.88,195.29 1137.01,211.52 1137.13,224.34 1137.25,235.40 1137.38,246.00 1137.50,255.63 1137.63,262.88 1137.75,269.75 1137.87,276.57 1138.00,281.03 1138.12,283.75 1138.25,285.52 1138.37,289.03 1138.49,295.65 1138.62,301.91 1138.74,305.54 1138.87,308.21 1138.99,308.81 1139.11,307.91 1139.24,309.91 1139.36,314.29 1139.49,316.83 1139.61,315.70 1139.73,314.38 1139.86,315.88 1139.98,318.13 1140.11,318.59 1140.23,318.25 1140.35,320.33 1140.48,325.22 1140.60,328.53 1140.73,327.23 1140.85,326.14 1140.97,326.29 1141.10,327.08 1141.22,329.15 1141.35,330.31 1141.47,332.15 1141.59,334.42 1141.72,333.69 1141.84,331.19 1141.97,329.68 1142.09,330.57 1142.21,332.52 1142.34,335.54 1142.46,339.32 1142.59,339.74 1142.71,337.41 1142.83,333.58 1142.96,330.80 1143.08,331.05 1143.21,331.83 1143.33,332.15 1143.45,334.13 1143.58,337.80 1143.70,339.68 1143.83,340.74 1143.95,339.93 1144.07,337.40 1144.20,336.58 1144.32,337.11 1144.45,337.40 1144.57,338.87 1144.69,340.27 1144.82,340.20 1144.94,338.71 1145.07,336.90 1145.19,337.74 1145.31,340.81 1145.44,342.63 1145.56,342.27 1145.69,340.73 1145.81,340.25 1145.93,341.84 1146.06,343.82 1146.18,344.29 1146.31,345.29 1146.43,345.85 1146.55,344.60 1146.68,343.10 1146.80,341.69 1146.93,341.31 1147.05,341.64 1147.18,341.59 1147.30,346.14 1147.42,343.84 1147.55,343.72 1147.67,340.95 1147.80,339.38 1147.92,341.50 1148.04,345.62 1148.17,346.62 1148.29,343.91 1148.42,341.74 1148.54,341.55 1148.66,342.58 1148.79,344.78 1148.91,346.97 1149.04,349.65 1149.16,350.04 1149.28,347.91 1149.41,345.68 1149.53,353.29 1149.66,344.18 1149.78,343.36 1149.90,343.83 1150.03,344.09 1150.15,344.29 1150.28,344.52 1150.40,346.97 1150.52,347.56 1150.65,344.43 1150.77,343.68 1150.90,345.24 1151.02,343.01 1151.14,341.37 1151.27,344.51 1151.39,348.64 1151.52,349.18 1151.64,348.53 1151.76,347.84 1151.89,343.55 1152.01,342.43 1152.14,346.89 1152.26,348.37 1152.38,346.38 1152.51,345.49 1152.63,345.30 1152.76,346.32 1152.88,346.87 1153.00,345.32 1153.13,343.26 1153.25,342.64 1153.38,341.96 1153.50,339.63 1153.62,339.18 1153.75,343.09 1153.87,347.93 1154.00,348.66 1154.12,346.08 1154.24,343.04 1154.37,342.20 1154.49,343.42 1154.62,344.55 1154.74,346.30 1154.86,346.67 1154.99,346.34 1155.11,344.98 1155.24,343.54 1155.36,344.02 1155.48,342.92 1155.61,341.51 1155.73,344.71 1155.86,349.43 1155.98,350.41 1156.10,348.20 1156.23,346.19 1156.35,347.50 1156.48,351.03 1156.60,352.29 1156.72,350.58 1156.85,347.34 1156.97,345.29 1157.10,344.91 1157.22,344.79 1157.34,344.77 1157.47,343.21 1157.59,341.19 1157.72,342.51 1157.84,345.37 1157.96,345.24 1158.09,343.79 1158.21,345.01 1158.34,346.61 1158.46,347.18 1158.59,347.90 1158.71,347.22 1158.83,345.59 1158.96,342.25 1159.08,340.10 1159.21,343.77 1159.33,349.30 1159.45,350.78 1159.58,348.78 1159.70,348.64 1159.83,349.90 1159.95,349.22 1160.07,348.46 1160.20,348.55 1160.32,347.13 1160.45,345.72 1160.57,345.13 1160.69,344.97 1160.82,347.28 1160.94,347.72 1161.07,345.81 1161.19,346.79 1161.31,348.81 1161.44,355.00 1161.56,347.32 1161.69,348.18 1161.81,350.62 1161.93,352.90 1162.06,352.68 1162.18,351.32 1162.31,350.43 1162.43,347.46 1162.55,343.92 1162.68,342.95 1162.80,343.98 1162.93,345.73 1163.05,345.82 1163.17,345.51 1163.30,345.99 1163.42,346.97 1163.55,345.44 1163.67,343.37 1163.79,343.73 1163.92,345.73 1164.04,349.62 1164.17,353.06 1164.29,351.99 1164.41,348.18 1164.54,345.15 1164.66,345.56 1164.79,346.27 1164.91,344.86 1165.03,345.68 1165.16,346.64 1165.28,343.35 1165.41,339.19 1165.53,337.21 1165.65,340.97 1165.78,345.30 1165.90,344.65 1166.03,344.49 1166.15,345.37 1166.27,344.67 1166.40,344.66 1166.52,346.66 1166.65,347.22 1166.77,345.51 1166.89,345.56 1167.02,345.99 1167.14,343.98 1167.27,341.75 1167.39,339.26 1167.51,339.64 1167.64,342.57 1167.76,344.99 1167.89,347.37 1168.01,349.54 1168.13,351.79 1168.26,350.89 1168.38,346.91 1168.51,343.19 1168.63,340.97 1168.75,340.34 1168.88,342.15 1169.00,345.35 1169.13,347.24 1169.25,348.06 1169.37,349.40 1169.50,350.83 1169.62,348.18 1169.75,344.15 1169.87,344.43 1170.00,345.66 1170.12,344.70 1170.24,344.59 1170.37,346.18 1170.49,348.10 1170.62,348.74 1170.74,347.23 1170.86,345.39 1170.99,343.47 1171.11,342.05 1171.24,342.72 1171.36,342.48 1171.48,341.69 1171.61,344.77 1171.73,349.30 1171.86,350.05 1171.98,349.29 1172.10,346.44 1172.23,340.96 1172.35,337.82 1172.48,339.34 1172.60,338.89 1172.72,329.27 1172.85,312.17 1172.97,287.63 1173.10,254.87 1173.22,215.98 1173.34,173.39 1173.47,138.07 1173.59,134.00 1173.72,134.00 1173.84,134.00 1173.96,134.00 1174.09,134.00 1174.21,134.00 1174.34,134.00 1174.46,134.00 1174.58,134.00 1174.71,134.00 1174.83,134.00 1174.96,134.00" fill="none" stroke="#0000ff" stroke-width="3.0" stroke-linejoin="round"/>
<g font-family="Liberation Serif, serif" font-weight="bold" fill="#000"><text transform="translate(107.0,386.4) scale(0.955,1)" text-anchor="end" font-size="35">0.00</text>
<text transform="translate(107.0,326.8) scale(0.955,1)" text-anchor="end" font-size="35">0.02</text>
<text transform="translate(107.0,267.2) scale(0.955,1)" text-anchor="end" font-size="35">0.04</text>
<text transform="translate(107.0,207.6) scale(0.955,1)" text-anchor="end" font-size="35">0.06</text>
<text transform="translate(107.0,148.0) scale(0.955,1)" text-anchor="end" font-size="35">0.08</text>
<text transform="translate(107.0,88.4) scale(0.955,1)" text-anchor="end" font-size="35">0.10</text>
<text transform="translate(107.0,28.8) scale(0.955,1)" text-anchor="end" font-size="35">0.12</text>
<text transform="translate(119.0,413.6) scale(0.955,1)" text-anchor="middle" font-size="35">-15</text>
<text transform="translate(192.6,413.6) scale(0.955,1)" text-anchor="middle" font-size="35">-10</text>
<text transform="translate(266.2,413.6) scale(0.955,1)" text-anchor="middle" font-size="35">-5</text>
<text transform="translate(339.8,413.6) scale(0.955,1)" text-anchor="middle" font-size="35">0</text>
<text transform="translate(413.5,413.6) scale(0.955,1)" text-anchor="middle" font-size="35">5</text>
<text transform="translate(487.1,413.6) scale(0.955,1)" text-anchor="middle" font-size="35">10</text>
<text transform="translate(560.7,413.6) scale(0.955,1)" text-anchor="middle" font-size="35">15</text>
<text transform="translate(717.0,358.4) scale(0.955,1)" text-anchor="end" font-size="35">0.00</text>
<text transform="translate(717.0,286.0) scale(0.955,1)" text-anchor="end" font-size="35">0.02</text>
<text transform="translate(717.0,213.6) scale(0.955,1)" text-anchor="end" font-size="35">0.04</text>
<text transform="translate(717.0,141.2) scale(0.955,1)" text-anchor="end" font-size="35">0.06</text>
<text transform="translate(717.0,68.8) scale(0.955,1)" text-anchor="end" font-size="35">0.08</text>
<text transform="translate(728.3,414.8) scale(0.955,1)" text-anchor="middle" font-size="35">-15</text>
<text transform="translate(802.2,414.8) scale(0.955,1)" text-anchor="middle" font-size="35">-10</text>
<text transform="translate(876.1,414.8) scale(0.955,1)" text-anchor="middle" font-size="35">-5</text>
<text transform="translate(950.0,414.8) scale(0.955,1)" text-anchor="middle" font-size="35">0</text>
<text transform="translate(1023.9,414.8) scale(0.955,1)" text-anchor="middle" font-size="35">5</text>
<text transform="translate(1097.8,414.8) scale(0.955,1)" text-anchor="middle" font-size="35">10</text>
<text transform="translate(1171.7,414.8) scale(0.955,1)" text-anchor="middle" font-size="35">15</text>
<text x="331.2" y="463.6" text-anchor="middle" font-size="42">Time (ns)</text>
<text x="942.9" y="464.6" text-anchor="middle" font-size="42">Time (ns)</text>
<text transform="translate(36.6,197.8) rotate(-90)" text-anchor="middle" font-size="42">Intensity a.u.</text>
<text transform="translate(644.8,198.5) rotate(-90)" text-anchor="middle" font-size="42">Intensity a.u.</text>
<text transform="translate(121.8,60.0) scale(1.025,1)" font-size="54">(a)</text>
<text transform="translate(731.6,61.0) scale(1.02,1)" font-size="41.5">(b)</text></g>
</svg>
</body></html>
